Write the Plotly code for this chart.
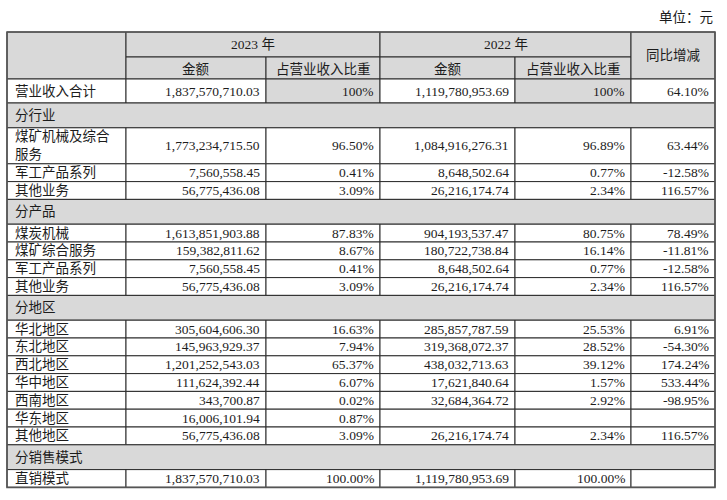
"""
Revenue breakdown table (2023 vs 2022) drawn with Plotly shapes and annotations.
"""

import plotly.graph_objects as go

# ---- data ----
ROW_LABELS = [
    "营业收入合计",
    "分行业",
    "煤矿机械及综合<br>服务",
    "军工产品系列",
    "其他业务",
    "分产品",
    "煤炭机械",
    "煤矿综合服务",
    "军工产品系列",
    "其他业务",
    "分地区",
    "华北地区",
    "东北地区",
    "西北地区",
    "华中地区",
    "西南地区",
    "华东地区",
    "其他地区",
    "分销售模式",
    "直销模式",
]
ROW_KINDS = [
    "total", "section", "double", "item", "item",
    "section", "item", "item", "item", "item",
    "section", "item", "item", "item", "item", "item", "item", "item",
    "section", "item",
]
AMOUNT_2023 = [
    "1,837,570,710.03", "", "1,773,234,715.50", "7,560,558.45", "56,775,436.08",
    "", "1,613,851,903.88", "159,382,811.62", "7,560,558.45", "56,775,436.08",
    "", "305,604,606.30", "145,963,929.37", "1,201,252,543.03", "111,624,392.44",
    "343,700.87", "16,006,101.94", "56,775,436.08",
    "", "1,837,570,710.03",
]
SHARE_2023 = [
    "100%", "", "96.50%", "0.41%", "3.09%",
    "", "87.83%", "8.67%", "0.41%", "3.09%",
    "", "16.63%", "7.94%", "65.37%", "6.07%", "0.02%", "0.87%", "3.09%",
    "", "100.00%",
]
AMOUNT_2022 = [
    "1,119,780,953.69", "", "1,084,916,276.31", "8,648,502.64", "26,216,174.74",
    "", "904,193,537.47", "180,722,738.84", "8,648,502.64", "26,216,174.74",
    "", "285,857,787.59", "319,368,072.37", "438,032,713.63", "17,621,840.64",
    "32,684,364.72", "", "26,216,174.74",
    "", "1,119,780,953.69",
]
SHARE_2022 = [
    "100%", "", "96.89%", "0.77%", "2.34%",
    "", "80.75%", "16.14%", "0.77%", "2.34%",
    "", "25.53%", "28.52%", "39.12%", "1.57%", "2.92%", "", "2.34%",
    "", "100.00%",
]
YOY = [
    "64.10%", "", "63.44%", "-12.58%", "116.57%",
    "", "78.49%", "-11.81%", "-12.58%", "116.57%",
    "", "6.91%", "-54.30%", "174.24%", "533.44%", "-98.95%", "", "116.57%",
    "", "",
]
YEARS = ["2023 年", "2022 年"]
SUB_HEADERS = ["金额", "占营业收入比重"]
YOY_HEADER = "同比增减"
UNIT_NOTE = "单位：元"

# ---- layout constants ----
W, H = 727, 500
COL_EDGES = [7, 126, 266, 380, 515, 631, 715]
TOP = 32
HEAD_ROW1 = 25
HEAD_ROW2 = 22
ROW_H = {"total": 24, "section": 24.8, "double": 36, "item": 17.8}
GRAY = "#d9d9d9"
LINE = "#2b2b2b"
TEXT = "#1c1c1c"
FONT = "Liberation Serif, Noto Sans CJK SC, serif"
FS = 13.5

fig = go.Figure()
shapes = []
annotations = []


def rect(x0, y0, x1, y1, fill="white"):
    shapes.append(dict(type="rect", xref="x", yref="y", x0=x0, y0=y0, x1=x1, y1=y1,
                       fillcolor=fill, line=dict(color=LINE, width=1), layer="below"))


def text(x, y, s, anchor="center"):
    annotations.append(dict(x=x, y=y, xref="x", yref="y", text=s, showarrow=False,
                            xanchor=anchor, yanchor="middle", align="left",
                            font=dict(family=FONT, size=FS, color=TEXT)))


c = COL_EDGES
mid = TOP + HEAD_ROW1
hb = mid + HEAD_ROW2

# header
rect(c[0], TOP, c[1], hb, GRAY)
for i, year in enumerate(YEARS):
    xl, xr = c[1 + 2 * i], c[3 + 2 * i]
    rect(xl, TOP, xr, mid, GRAY)
    text((xl + xr) / 2, (TOP + mid) / 2, year)
    for j, sub in enumerate(SUB_HEADERS):
        a, b = c[1 + 2 * i + j], c[2 + 2 * i + j]
        rect(a, mid, b, hb, GRAY)
        text((a + b) / 2, (mid + hb) / 2 + 1, sub)
rect(c[5], TOP, c[6], hb, GRAY)
text((c[5] + c[6]) / 2, (TOP + hb) / 2, YOY_HEADER)

# body
y = hb
for k, label in enumerate(ROW_LABELS):
    kind = ROW_KINDS[k]
    h = ROW_H[kind]
    yc = y + h / 2
    if kind == "section":
        rect(c[0], y, c[6], y + h, GRAY)
        text(c[0] + 6, yc, label, "left")
    else:
        rect(c[0], y, c[1], y + h)
        text(c[0] + 6, yc, label, "left")
        values = [AMOUNT_2023[k], SHARE_2023[k], AMOUNT_2022[k], SHARE_2022[k], YOY[k]]
        for j, v in enumerate(values):
            fill = GRAY if (kind == "total" and j in (1, 3)) else "white"
            rect(c[1 + j], y, c[2 + j], y + h, fill)
            if v:
                text(c[2 + j] - 4, yc, v, "right")
    y += h

# outer border
shapes.append(dict(type="rect", xref="x", yref="y", x0=c[0], y0=TOP, x1=c[6], y1=y,
                   line=dict(color="#555555", width=1.6), fillcolor="rgba(0,0,0,0)"))

# unit note
text(c[6], 17, UNIT_NOTE, "right")

fig.update_layout(
    width=W,
    height=H,
    margin=dict(l=0, r=0, t=0, b=0),
    paper_bgcolor="white",
    plot_bgcolor="white",
    xaxis=dict(range=[0, W], visible=False, fixedrange=True),
    yaxis=dict(range=[H, 0], visible=False, fixedrange=True),
    shapes=shapes,
    annotations=annotations,
    showlegend=False,
)

# page body has a default margin; drop it so the table sits where the reference has it
fig.write_html(
    "out.html",
    config={"displayModeBar": False},
    post_script="document.body.style.margin='0';",
)
